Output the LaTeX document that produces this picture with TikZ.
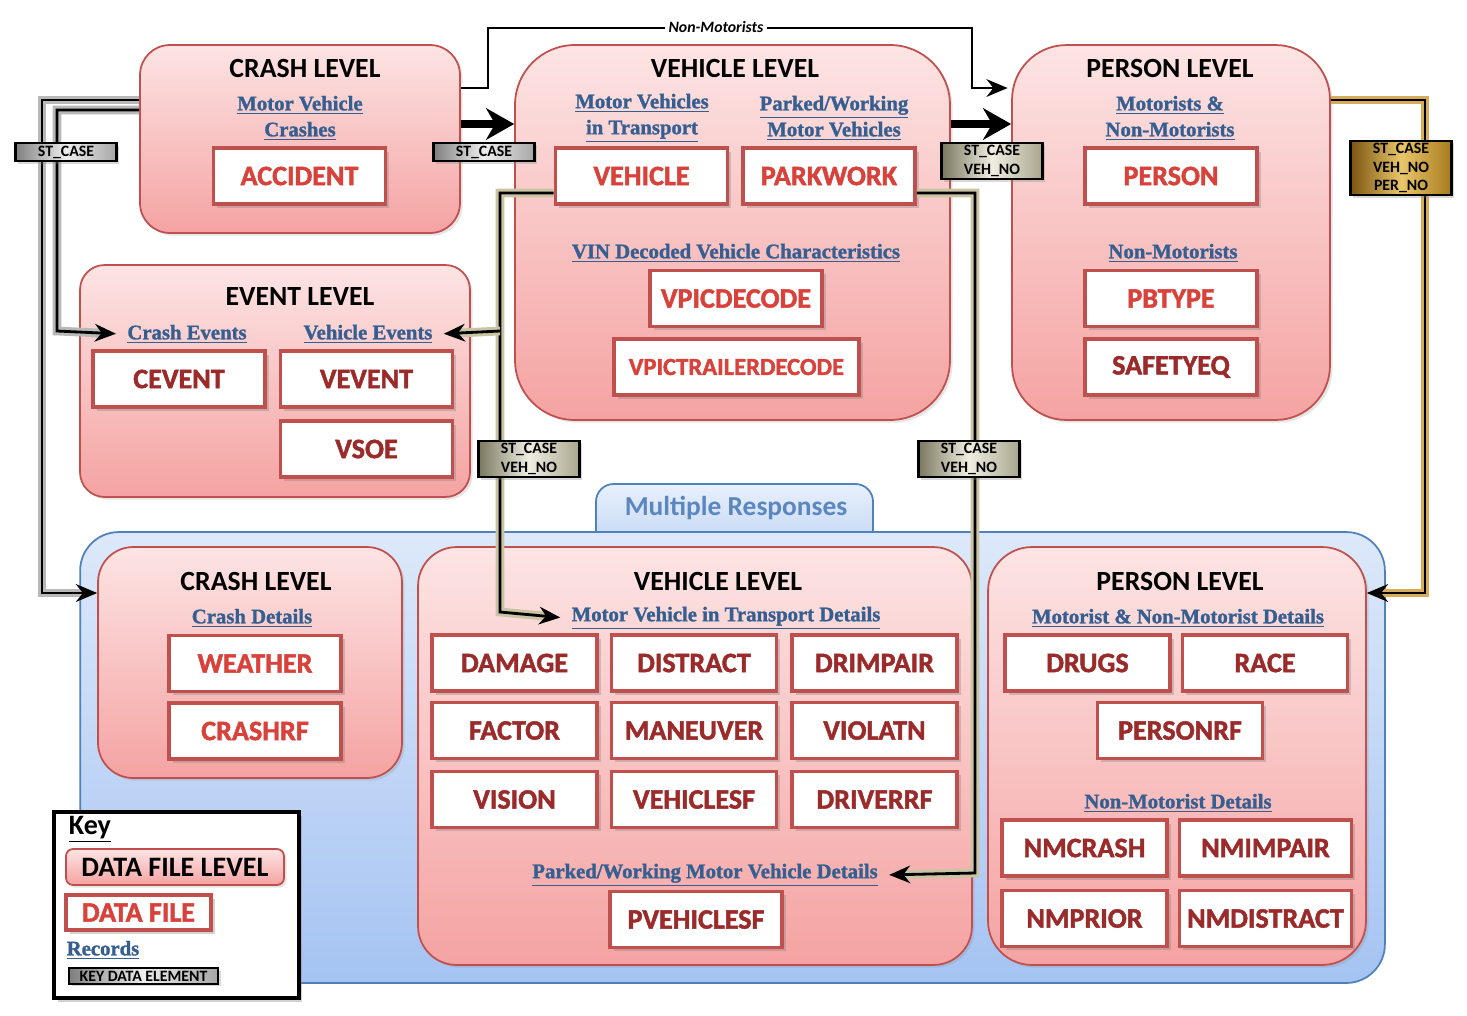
\documentclass[tikz,border=0pt]{standalone}
\usepackage{fontspec}
\setmainfont{Carlito}
\newfontfamily\heavyfont[BoldFeatures={FakeBold=1.6}]{Carlito}
\newfontfamily\recfont[BoldFeatures={FakeBold=1.4}]{Liberation Serif}
\usetikzlibrary{arrows.meta,shadows}

\definecolor{lvlline}{HTML}{C0504D}
\definecolor{lvltop}{HTML}{FDE4E4}
\definecolor{lvlbot}{HTML}{F4A3A2}
\definecolor{bluetop}{HTML}{DDE9FA}
\definecolor{bluebot}{HTML}{A5C3F2}
\definecolor{blueline}{HTML}{4F81BD}
\definecolor{tabtop}{HTML}{E8F0FC}
\definecolor{tabbot}{HTML}{C2D6F4}
\definecolor{tabtext}{HTML}{5B86C0}
\definecolor{recblue}{HTML}{365F91}
\definecolor{filered}{HTML}{D9413B}
\definecolor{filedark}{HTML}{9B2A2A}
\definecolor{glowgray}{HTML}{B8B8B8}
\definecolor{glowolive}{HTML}{CBC4A4}
\definecolor{glowgold}{HTML}{D6AC58}
\definecolor{kgdark}{HTML}{7F7F7F}
\definecolor{kglight}{HTML}{EEEEEE}
\definecolor{kgmid}{HTML}{A6A6A6}
\definecolor{kodark}{HTML}{7A775E}
\definecolor{kolight}{HTML}{EFEEE2}
\definecolor{komid}{HTML}{A9A58C}
\definecolor{kydark}{HTML}{7A5410}
\definecolor{kylight}{HTML}{E9C66A}
\definecolor{kymid}{HTML}{A77B1D}

\tikzset{
  lvlbox/.style={draw=lvlline, line width=1pt, top color=lvltop, bottom color=lvlbot,
    rounded corners=#1, drop shadow={opacity=.2,shadow xshift=1.5pt,shadow yshift=-1.5pt}},
  lvltitle/.style={font=\bfseries\fontsize{15.8}{18}\selectfont},
  rec/.style={font=\recfont\bfseries\fontsize{11.8}{14.8}\selectfont, text=recblue,
    align=center, yshift=-1.7pt},
  dfile/.style={draw=lvlline, line width=2.2pt, fill=white, minimum width=3.44cm,
    minimum height=1.12cm, font=\heavyfont\bfseries\fontsize{16}{17}\selectfont, text=filered,
    drop shadow={opacity=.35,shadow xshift=2pt,shadow yshift=-2pt}},
  dfdark/.style={dfile, text=filedark},
  keyel/.style={draw=black, line width=1.2pt, font=\bfseries\fontsize{9}{10.5}\selectfont,
    align=center, minimum width=2.02cm, inner sep=1.5pt,
    drop shadow={opacity=.3,shadow xshift=1.5pt,shadow yshift=-1.5pt}},
  keygray/.style={keyel, left color=kgdark, right color=kgmid, middle color=kglight},
  keyolive/.style={keyel, left color=kodark, right color=komid, middle color=kolight},
  keygold/.style={keyel, left color=kydark, right color=kymid, middle color=kylight},
  link/.style={draw=black, line width=1.6pt, preaction={draw=#1, line width=5pt}},
  arr/.style={-{Stealth[length=12pt,width=10pt]}},
  bigarrow/.style={draw=black, line width=4.5pt, -{Stealth[length=16pt,width=18pt]}},
  mrbox/.style={draw=blueline, line width=1pt, top color=bluetop, bottom color=bluebot,
    rounded corners=22pt}
}

\begin{document}
\begin{tikzpicture}[x=0.02cm, y=-0.02cm]
  \fill[white] (0,0) rectangle (1467,1015);
  \useasboundingbox (0,0) rectangle (1467,1015);

  % Crash level (top)
  \node[lvlbox=17pt, minimum width=6.4cm, minimum height=3.76cm] (crashT) at (300,139) {};
  \node[lvltitle] (crashTtl) at (305,68) {CRASH LEVEL};
  \node[rec] (mvCrash) at (300,115) {\underline{Motor Vehicle}\\\underline{Crashes}};
  \node[dfile] (accident) at (299.5,176) {ACCIDENT};

  % Vehicle level (top)
  \node[lvlbox=34pt, minimum width=8.7cm, minimum height=7.5cm] (vehT) at (732.5,232.5) {};
  \node[lvltitle] (vehTtl) at (735,68) {VEHICLE LEVEL};
  \node[rec] (mvTrans) at (642,115) {\underline{Motor Vehicles}\\\underline{in Transport}};
  \node[rec] (pwMv) at (834,115) {\underline{Parked/Working}\\\underline{Motor Vehicles}};
  \node[dfile] (vehicle) at (641.5,176) {VEHICLE};
  \node[dfile] (parkwork) at (829,176) {PARKWORK};
  \node[rec] (vinDec) at (736,250) {\underline{VIN Decoded Vehicle Characteristics}};
  \node[dfile] (vpic) at (736,298.5) {VPICDECODE};
  \node[dfile, minimum width=4.9cm, font=\heavyfont\bfseries\fontsize{14}{15}\selectfont] (vpictr) at (736.5,367) {VPICTRAILERDECODE};

  % Person level (top)
  \node[lvlbox=31pt, minimum width=6.36cm, minimum height=7.5cm] (personT) at (1171,232.5) {};
  \node[lvltitle] (personTtl) at (1170,68) {PERSON LEVEL};
  \node[rec] (motNm) at (1170,115) {\underline{Motorists \&}\\\underline{Non-Motorists}};
  \node[dfile] (person) at (1171,176) {PERSON};
  \node[rec] (nonMot) at (1173,250) {\underline{Non-Motorists}};
  \node[dfile] (pbtype) at (1171,298.5) {PBTYPE};
  \node[dfdark] (safetyeq) at (1171,367) {SAFETYEQ};

  % Event level
  \node[lvlbox=14pt, minimum width=7.8cm, minimum height=4.64cm] (eventL) at (275,381) {};
  \node[lvltitle] (eventTtl) at (300,296) {EVENT LEVEL};
  \node[rec] (crashEv) at (187,331) {\underline{Crash Events}};
  \node[rec] (vehEv) at (368,331) {\underline{Vehicle Events}};
  \node[dfdark] (cevent) at (179,379) {CEVENT};
  \node[dfdark] (vevent) at (366.5,379) {VEVENT};
  \node[dfdark] (vsoe) at (366.5,449) {VSOE};

  % Multiple responses
  \draw[draw=blueline, line width=1pt, top color=tabtop, bottom color=tabbot, rounded corners=10pt]
    (596,548) -- (596,484) -- (873,484) -- (873,548);
  \node[font=\bfseries\fontsize{15.6}{17}\selectfont, text=tabtext] (mrText) at (736,508) {Multiple Responses};
  \node[mrbox, minimum width=26.1cm, minimum height=9.02cm] (mresp) at (732.5,757.5) {};

  % Crash level (bottom)
  \node[lvlbox=20pt, minimum width=6.08cm, minimum height=4.62cm] (crashB) at (250,662.5) {};
  \node[lvltitle] (crashBtl) at (256,581) {CRASH LEVEL};
  \node[rec] (crashDet) at (252,615) {\underline{Crash Details}};
  \node[dfile] (weather) at (255,663.5) {WEATHER};
  \node[dfile] (crashrf) at (255,731) {CRASHRF};

  % Vehicle level (bottom)
  \node[lvlbox=22pt, minimum width=11.08cm, minimum height=8.36cm] (vehB) at (695,756) {};
  \node[lvltitle] (vehBtl) at (718,581) {VEHICLE LEVEL};
  \node[rec] (mvtDet) at (726,615) {\underline{Motor Vehicle in Transport Details}};
  \node[dfdark, minimum width=3.3cm] (damage) at (514.5,663) {DAMAGE};
  \node[dfdark, minimum width=3.3cm] (distract) at (694,663) {DISTRACT};
  \node[dfdark, minimum width=3.3cm] (drimpair) at (874.5,663) {DRIMPAIR};
  \node[dfdark, minimum width=3.3cm] (factor) at (514.5,730.5) {FACTOR};
  \node[dfdark, minimum width=3.3cm] (maneuver) at (694,730.5) {MANEUVER};
  \node[dfdark, minimum width=3.3cm] (violatn) at (874.5,730.5) {VIOLATN};
  \node[dfdark, minimum width=3.3cm] (vision) at (514.5,799.5) {VISION};
  \node[dfdark, minimum width=3.3cm] (vehiclesf) at (694,799.5) {VEHICLESF};
  \node[dfdark, minimum width=3.3cm] (driverrf) at (874.5,799.5) {DRIVERRF};
  \node[rec] (pwDet) at (705,872) {\underline{Parked/Working Motor Vehicle Details}};
  \node[dfdark] (pvehiclesf) at (696,919.5) {PVEHICLESF};

  % Person level (bottom)
  \node[lvlbox=25pt, minimum width=7.56cm, minimum height=8.36cm] (personB) at (1177,756) {};
  \node[lvltitle] (personBtl) at (1180,581) {PERSON LEVEL};
  \node[rec] (motDet) at (1178,615) {\underline{Motorist \& Non-Motorist Details}};
  \node[dfdark, minimum width=3.3cm] (drugs) at (1087.5,663) {DRUGS};
  \node[dfdark, minimum width=3.3cm] (race) at (1265,663) {RACE};
  \node[dfdark, minimum width=3.3cm] (personrf) at (1180,730.5) {PERSONRF};
  \node[rec] (nmDet) at (1178,800) {\underline{Non-Motorist Details}};
  \node[dfdark, minimum width=3.3cm] (nmcrash) at (1084.5,848) {NMCRASH};
  \node[dfdark] (nmimpair) at (1265.5,848) {NMIMPAIR};
  \node[dfdark, minimum width=3.3cm] (nmprior) at (1084.5,918.5) {NMPRIOR};
  \node[dfdark] (nmdistract) at (1265.5,918.5) {NMDISTRACT};

  % Links between levels
  \coordinate (vbranch) at (500,331);
  \draw[link=white, arr, shorten >=2pt] (crashT.east |- 0,88) -| (488,28) -| (972,88)
    -- (personT.west |- 0,88);
  \node[font=\bfseries\itshape\fontsize{9}{10}\selectfont, fill=white, inner sep=2pt] (nmLink) at (716,27) {Non-Motorists};
  \draw[bigarrow] (crashT.east |- 0,124) -- (vehT.west |- 0,124);
  \draw[bigarrow] (vehT.east |- 0,124) -- (personT.west |- 0,124);
  \draw[link=glowgray, arr] (crashT.west |- 0,100) -| (42,593) -- (crashB.west |- 0,593);
  \draw[link=glowgray, arr, shorten >=3pt] (crashT.west |- 0,110) -| (57,331) -- (crashEv.west);
  \draw[link=glowolive, arr, shorten >=3pt] (vehicle.west |- 0,193) -| (500,612) -- (mvtDet.west);
  \draw[link=glowolive, arr, shorten >=3pt] (vbranch) -- (vehEv.east);
  \draw[link=glowolive, arr, shorten >=3pt] (parkwork.east |- 0,193) -| (975,873) -- (pwDet.east);
  \draw[link=glowgold, arr] (personT.east |- 0,100) -| (1425,593) -- (personB.east |- 0,593);

  % Key data elements
  \node[keygray] (kCrashL) at (66,152) {ST\_CASE};
  \node[keygray] (kCrashVeh) at (484,152) {ST\_CASE};
  \node[keyolive] (kVehPer) at (992,161) {ST\_CASE\\VEH\_NO};
  \node[keygold] (kPerson) at (1401,168) {ST\_CASE\\VEH\_NO\\PER\_NO};
  \node[keyolive] (kVehicle) at (529,459) {ST\_CASE\\VEH\_NO};
  \node[keyolive] (kPark) at (969,459) {ST\_CASE\\VEH\_NO};

  % Key
  \node[draw=black, line width=2pt, fill=white, minimum width=4.9cm, minimum height=3.72cm,
    drop shadow={opacity=.35,shadow xshift=2pt,shadow yshift=-2pt}] (keyBox) at (176.5,905) {};
  \node[font=\bfseries\fontsize{16}{18}\selectfont] (keyTtl) at (90,829) {\underline{Key}};
  \node[lvlbox=4pt, minimum width=4.36cm, minimum height=0.72cm,
    font=\bfseries\fontsize{16}{18}\selectfont] (keyLvl) at (175,867) {DATA FILE LEVEL};
  \node[dfile, minimum width=2.9cm, minimum height=0.7cm] (keyFile) at (138.5,912.5) {DATA FILE};
  \node[rec] (keyRec) at (103,947) {\underline{Records}};
  \node[keygray, minimum width=2.98cm] (keyEl) at (143.5,976) {KEY DATA ELEMENT};
\end{tikzpicture}
\end{document}
